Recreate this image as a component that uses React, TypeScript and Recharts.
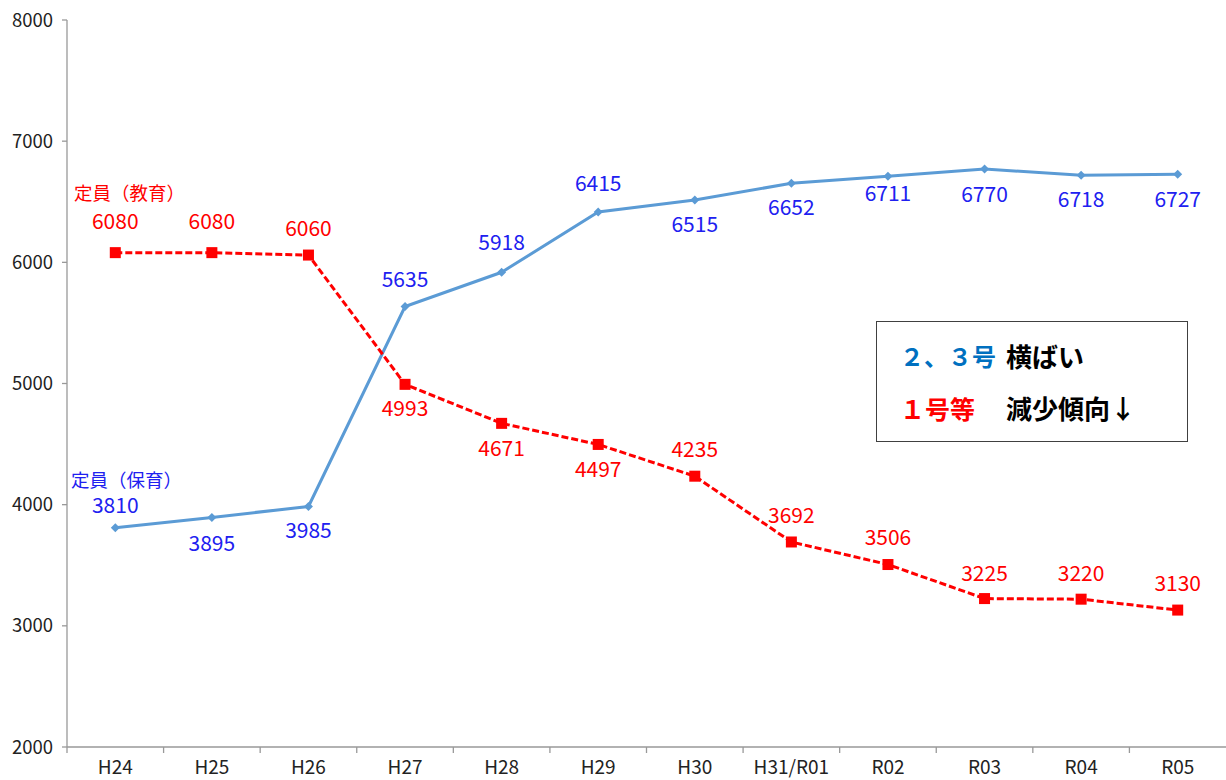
import React from 'react';
import { LineChart, Line, XAxis, YAxis } from 'recharts';

const categories = ['H24', 'H25', 'H26', 'H27', 'H28', 'H29', 'H30', 'H31/R01', 'R02', 'R03', 'R04', 'R05'];
const hoikuValues = [3810, 3895, 3985, 5635, 5918, 6415, 6515, 6652, 6711, 6770, 6718, 6727];
const kyoikuValues = [6080, 6080, 6060, 4993, 4671, 4497, 4235, 3692, 3506, 3225, 3220, 3130];
const yTicks = [2000, 3000, 4000, 5000, 6000, 7000, 8000];

// label offsets (px) from each point, negative = above
const hoikuLabelDy = [-20, 28, 26, -25, -28, -27, 26, 26, 19, 27, 26, 27];
const kyoikuLabelDy = [-29, -29, -25, 26, 27, 27, -25, -25, -25, -23, -24, -25];

const W = 1226;
const H = 780;
const LEFT = 67;
const BAND = (W - LEFT) / categories.length;

const BLUE_LINE = '#5b9bd5';
const BLUE_TEXT = '#2020f0';
const RED = '#ff0000';
const FONT = '"Noto Sans CJK JP", "Noto Sans", sans-serif';

const data = categories.map((name, i) => ({
  name,
  hoiku: hoikuValues[i],
  kyoiku: kyoikuValues[i],
}));

function XTick({ x, y, payload }: any) {
  const half = BAND / 2;
  return (
    <g>
      <line x1={x - half} x2={x - half} y1={y} y2={y + 6} stroke="#999" strokeWidth={1.3} />
      <text x={x} y={y + 22} textAnchor="middle" dominantBaseline="middle" fontSize={19} fill="#222" fontFamily={FONT}>
        {payload.value}
      </text>
    </g>
  );
}

function makeLabel(color: string, offsets: number[]) {
  return (props: any) => {
    const { x, y, value, index } = props;
    return (
      <text key={`l-${index}`} x={x} y={y + offsets[index]} textAnchor="middle" dominantBaseline="middle" fontSize={21} fill={color} fontFamily={FONT}>
        {value}
      </text>
    );
  };
}

function Diamond(props: any) {
  const { cx, cy, index } = props;
  const r = 4.5;
  return <path key={`d-${index}`} d={`M${cx},${cy - r}L${cx + r},${cy}L${cx},${cy + r}L${cx - r},${cy}Z`} fill={BLUE_LINE} />;
}

function Square(props: any) {
  const { cx, cy, index } = props;
  const s = 11;
  return <rect key={`s-${index}`} x={cx - s / 2} y={cy - s / 2} width={s} height={s} fill={RED} />;
}

export default function App() {
  return (
    <div style={{ position: 'relative', width: W, height: H, fontFamily: FONT, background: '#fff' }}>
      <style>{'body{margin:0}'}</style>
      <LineChart width={W} height={H} data={data} margin={{ top: 20, right: 0, left: 0, bottom: 0 }}>
        <XAxis
          dataKey="name"
          height={33}
          tickSize={0}
          tickMargin={0}
          tick={<XTick />}
          interval={0}
          padding={{ left: BAND / 2, right: BAND / 2 }}
          stroke="#999"
          strokeWidth={1.3}
        />
        <YAxis
          width={LEFT}
          domain={[2000, 8000]}
          ticks={yTicks}
          tickSize={5}
          tickMargin={9}
          stroke="#999"
          strokeWidth={1.3}
          tick={{ fontSize: 18.5, fill: '#222', fontFamily: FONT }}
        />
        <Line
          dataKey="hoiku"
          stroke={BLUE_LINE}
          strokeWidth={3}
          dot={<Diamond />}
          label={makeLabel(BLUE_TEXT, hoikuLabelDy)}
          isAnimationActive={false}
        />
        <Line
          dataKey="kyoiku"
          stroke={RED}
          strokeWidth={3}
          strokeDasharray="7 3"
          dot={<Square />}
          label={makeLabel(RED, kyoikuLabelDy)}
          isAnimationActive={false}
        />
      </LineChart>

      <div style={{ position: 'absolute', left: 74, top: 182, color: RED, fontSize: 18.5, lineHeight: '20px', whiteSpace: 'nowrap' }}>
        定員（教育）
      </div>
      <div style={{ position: 'absolute', left: 71, top: 469, color: BLUE_TEXT, fontSize: 18.5, lineHeight: '20px', whiteSpace: 'nowrap' }}>
        定員（保育）
      </div>

      <div
        style={{
          position: 'absolute',
          left: 876,
          top: 321,
          width: 310,
          height: 119,
          border: '1.5px solid #404040',
          background: '#fff',
          fontWeight: 700,
          fontSize: 25,
          whiteSpace: 'nowrap',
        }}
      >
        <div style={{ position: 'absolute', left: 23, top: 17, lineHeight: '34px', color: '#0070c0', fontSize: 24 }}>２、３号</div>
        <div style={{ position: 'absolute', left: 129, top: 17, lineHeight: '34px', color: '#000', fontSize: 26 }}>横ばい</div>
        <div style={{ position: 'absolute', left: 23, top: 69, lineHeight: '34px', color: RED }}>１号等</div>
        <div style={{ position: 'absolute', left: 129, top: 69, lineHeight: '34px', color: '#000', fontSize: 26 }}>減少傾向↓</div>
      </div>
    </div>
  );
}
